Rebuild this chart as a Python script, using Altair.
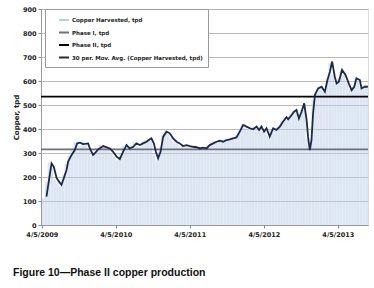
import altair as alt
import pandas as pd

# ---------------- data ----------------
ma_dates = [
    "2009-04-28", "2009-05-23", "2009-06-03", "2009-06-17", "2009-06-24", "2009-07-11",
    "2009-07-23", "2009-08-05", "2009-08-13", "2009-08-30", "2009-09-15", "2009-09-26",
    "2009-10-10", "2009-10-26", "2009-11-20", "2009-11-28", "2009-12-14", "2009-12-23",
    "2010-01-08", "2010-02-02", "2010-03-07", "2010-03-23", "2010-04-09", "2010-04-25",
    "2010-05-11", "2010-05-28", "2010-06-13", "2010-06-30", "2010-07-16", "2010-08-02",
    "2010-08-18", "2010-09-04", "2010-09-20", "2010-09-28", "2010-10-10", "2010-10-20",
    "2010-10-31", "2010-11-12", "2010-11-25", "2010-12-12", "2010-12-28", "2011-01-13",
    "2011-01-30", "2011-02-15", "2011-03-03", "2011-03-20", "2011-04-06", "2011-04-22",
    "2011-05-09", "2011-05-25", "2011-06-10", "2011-06-27", "2011-07-13", "2011-07-30",
    "2011-08-15", "2011-09-01", "2011-09-17", "2011-10-04", "2011-10-20", "2011-11-05",
    "2011-11-22", "2011-12-08", "2011-12-25", "2012-01-10", "2012-01-27", "2012-02-12",
    "2012-02-29", "2012-03-13", "2012-03-24", "2012-04-06", "2012-04-18", "2012-05-04",
    "2012-05-21", "2012-06-06", "2012-06-23", "2012-07-09", "2012-07-26", "2012-08-03",
    "2012-08-20", "2012-09-01", "2012-09-13", "2012-09-25", "2012-10-08", "2012-10-21",
    "2012-11-02", "2012-11-09", "2012-11-18", "2012-11-26", "2012-12-04", "2012-12-13",
    "2012-12-29", "2013-01-15", "2013-01-31", "2013-02-13", "2013-02-25", "2013-03-08",
    "2013-03-21", "2013-03-30", "2013-04-10", "2013-04-26", "2013-05-13", "2013-05-29",
    "2013-06-12", "2013-06-25", "2013-07-06", "2013-07-23", "2013-07-31", "2013-08-16",
    "2013-08-31",
]
ma_values = [
    118, 257, 243, 196, 187, 167,
    196, 229, 264, 292, 312, 340,
    343, 337, 340, 319, 292, 299,
    315, 329, 319, 305, 285, 275,
    305, 333, 319, 326, 340, 333,
    340, 347, 357, 361, 340, 305,
    278, 305, 368, 389, 382, 361,
    347, 340, 329, 333, 329, 326,
    324, 319, 322, 319, 333, 340,
    347, 351, 347, 354, 357, 361,
    365, 389, 417, 410, 403, 399,
    410, 396, 410, 389, 403, 368,
    403, 396, 410, 431, 449, 440,
    458, 472, 479, 444, 472, 507,
    438, 368, 312, 354, 465, 542,
    569, 576, 555, 604, 639, 681,
    618, 590, 597, 646, 625, 590,
    562, 576, 611, 604, 569, 576,
    576,
]

# Copper harvested, tpd (two-week periods starting 2009-04-06)
harvest_start = "2009-04-06"
harvest_values = [
    110, 180, 260, 240, 190, 175, 160, 210, 255, 290,
    315, 345, 350, 330, 345, 335, 310, 285, 305, 320,
    335, 325, 320, 315, 300, 285, 270, 300, 330, 320,
    325, 330, 345, 330, 325, 350, 355, 360, 350, 300,
    270, 320, 375, 395, 380, 360, 345, 340, 325, 335,
    330, 325, 330, 320, 325, 315, 325, 320, 335, 345,
    350, 345, 355, 350, 360, 355, 365, 360, 375, 400,
    420, 405, 400, 395, 410, 400, 405, 390, 400, 370,
    400, 395, 405, 415, 435, 450, 440, 460, 475, 480,
    445, 480, 505, 360, 330, 520, 560, 575, 570, 555,
    610, 675, 625, 590, 610, 645, 625, 590, 565, 575,
    610, 600, 570, 580, 585,
]

phase_names = ["Phase I, tpd", "Phase II, tpd"]
phase_values = [315, 535]

series_names = [
    "Copper Harvested, tpd",
    "Phase I, tpd",
    "Phase II, tpd",
    "30 per. Mov. Avg. (Copper Harvested, tpd)",
]
series_colors = ["#b9cde5", "#6f6f82", "#000000", "#1c2a48"]

y_ticks = [0, 100, 200, 300, 400, 500, 600, 700, 800, 900]
x_tick_years = [2009, 2010, 2011, 2012, 2013]

# ---------------- tables ----------------
starts = pd.date_range(harvest_start, periods=len(harvest_values), freq="14D")
bars = pd.DataFrame({
    "start": starts.strftime("%Y-%m-%d"),
    "end": (starts + pd.Timedelta(days=13)).strftime("%Y-%m-%d"),
    "value": harvest_values,
})
ma = pd.DataFrame({"date": ma_dates, "value": ma_values, "series": series_names[3]})
phases = pd.DataFrame({"series": phase_names, "value": phase_values})

FONT = "DejaVu Sans"

x_scale = alt.Scale(type="utc",
                    domain=[alt.DateTime(year=2009, month=4, date=1, utc=True),
                            alt.DateTime(year=2013, month=9, date=1, utc=True)])
y_scale = alt.Scale(domain=[0, 900])
color_scale = alt.Scale(domain=series_names, range=series_colors)

x_axis = alt.Axis(
    title=None,
    values=[alt.DateTime(year=y, month=4, date=5, utc=True) for y in x_tick_years],
    labelExpr="utcFormat(datum.value, '%-m/%-d/%Y')",
    labelFont=FONT, labelFontSize=6.5, labelFontWeight="bold", labelColor="#222",
    labelPadding=3, tickSize=3, tickColor="#888", domainColor="#999",
    grid=False, labelFlush=False,
)
y_axis = alt.Axis(
    title="Copper, tpd", values=y_ticks,
    titleFont=FONT, titleFontSize=7, titleFontWeight="bold", titleColor="#222",
    titlePadding=3,
    labelFont=FONT, labelFontSize=6.5, labelFontWeight="bold", labelColor="#222",
    labelPadding=2, tickSize=3, tickColor="#888", domainColor="#999",
    grid=True, gridColor="#a9a9a9", gridWidth=0.8,
)

legend = alt.Legend(
    title=None, orient="none", legendX=4, legendY=0,
    symbolType="stroke", symbolSize=100, symbolStrokeWidth=2, symbolOffset=8,
    labelFont=FONT, labelFontSize=5.5, labelFontWeight="bold", labelColor="#222",
    labelLimit=400, labelOffset=2, rowPadding=2.5, padding=5,
    strokeColor="#999", fillColor="white",
)

bar_layer = alt.Chart(bars).mark_bar(color="#b9cde5", opacity=0.5).encode(
    x=alt.X("start:T", scale=x_scale, axis=x_axis),
    x2="end:T",
    y=alt.Y("value:Q", scale=y_scale, axis=y_axis),
    y2=alt.datum(0),
)

phase_layer = alt.Chart(phases).mark_rule(strokeWidth=1.8).encode(
    y=alt.Y("value:Q", scale=y_scale, axis=y_axis),
    color=alt.Color("series:N", scale=color_scale, legend=legend),
)

ma_layer = alt.Chart(ma).mark_line(strokeWidth=1.8).encode(
    x=alt.X("date:T", scale=x_scale, axis=x_axis),
    y=alt.Y("value:Q", scale=y_scale, axis=y_axis),
    color=alt.Color("series:N", scale=color_scale, legend=legend),
)

chart = alt.layer(bar_layer, phase_layer, ma_layer).properties(
    width=327, height=216,
    autosize=alt.AutoSizeParams(type="none"),
    padding={"left": 41, "top": 9, "right": 6, "bottom": 63},
    title=alt.TitleParams(
        "Figure 10\u2014Phase II copper production",
        orient="bottom", anchor="start", frame="group", dx=-28, offset=30,
        font="Liberation Sans", fontSize=10.5, fontWeight="bold", color="#111",
    ),
).configure_view(stroke="#9a9a9a", strokeWidth=1).configure(background="white")

chart.save("out.html", embed_options={"renderer": "svg", "actions": False})
